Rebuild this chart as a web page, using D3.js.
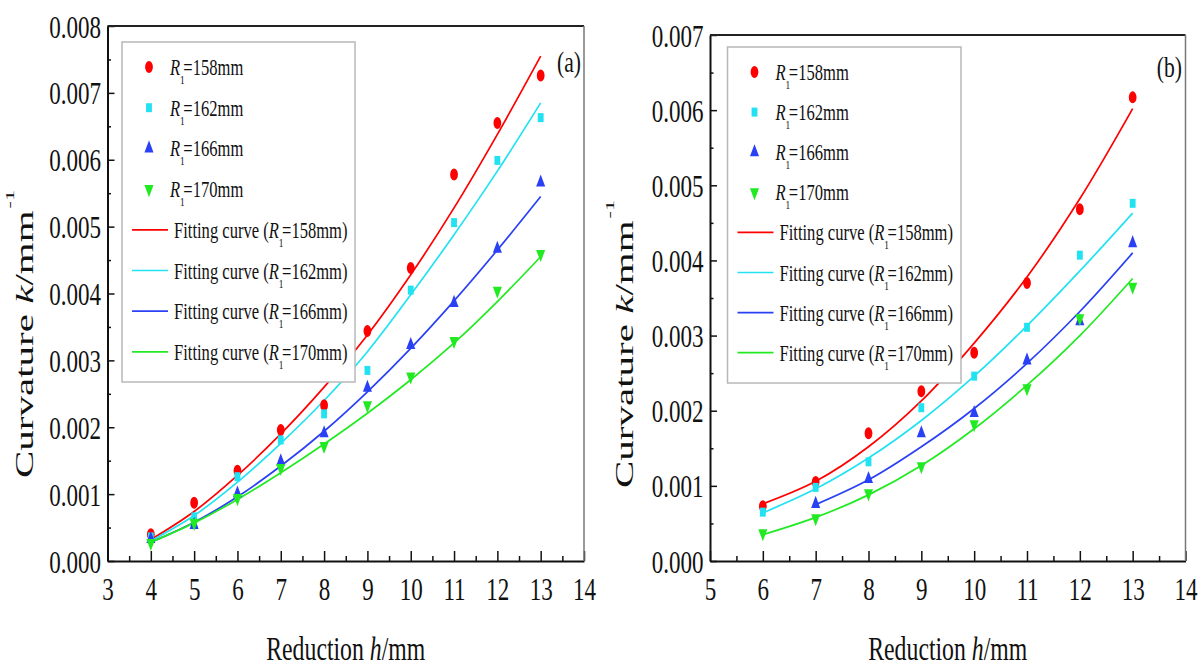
<!DOCTYPE html>
<html>
<head>
<meta charset="utf-8">
<script src="https://cdn.jsdelivr.net/npm/d3@7"></script>
<style>
body { margin: 0; background: #fff; }
svg { display: block; font-family: "Liberation Serif", "Times New Roman", serif; }
</style>
</head>
<body>
<svg id="chart" width="1204" height="666"></svg>
<script>
// ---- data ----
const radii = ["158", "162", "166", "170"];
const colors = ["#ff0000", "#22e2f2", "#2a40f4", "#22ea22"];

// panel (a)
const hA = [4, 5, 6, 7, 8, 9, 10, 11, 12, 13];
const kA158 = [0.00040, 0.00087, 0.00135, 0.00196, 0.00233, 0.00344, 0.00438, 0.00578, 0.00655, 0.00726];
const kA162 = [0.00036, 0.00066, 0.00126, 0.00181, 0.00220, 0.00285, 0.00405, 0.00506, 0.00599, 0.00663];
const kA166 = [0.00033, 0.00054, 0.00101, 0.00149, 0.00191, 0.00259, 0.00323, 0.00386, 0.00467, 0.00566];
const kA170 = [0.00027, 0.00057, 0.00094, 0.00139, 0.00172, 0.00233, 0.00276, 0.00329, 0.00404, 0.00459];
const fitA158 = [0.00032, 0.00074, 0.00128, 0.00190, 0.00260, 0.00338, 0.00428, 0.00528, 0.00638, 0.00755];
const fitA162 = [0.00030, 0.00068, 0.00118, 0.00176, 0.00240, 0.00313, 0.00398, 0.00488, 0.00583, 0.00685];
const fitA166 = [0.00028, 0.00058, 0.00096, 0.00142, 0.00194, 0.00253, 0.00318, 0.00389, 0.00465, 0.00545];
const fitA170 = [0.00028, 0.00057, 0.00092, 0.00132, 0.00175, 0.00221, 0.00271, 0.00326, 0.00388, 0.00455];

// panel (b)
const hB = [6, 7, 8, 9, 10, 11, 12, 13];
const kB158 = [0.00073, 0.00105, 0.00170, 0.00226, 0.00277, 0.00370, 0.00468, 0.00617];
const kB162 = [0.00065, 0.00098, 0.00132, 0.00204, 0.00246, 0.00311, 0.00407, 0.00476];
const kB166 = [null, 0.00076, 0.00109, 0.00170, 0.00197, 0.00267, 0.00319, 0.00423];
const kB170 = [0.00037, 0.00057, 0.00090, 0.00126, 0.00182, 0.00230, 0.00323, 0.00365];
const fitB158 = [0.00076, 0.00106, 0.00152, 0.00213, 0.00290, 0.00378, 0.00482, 0.00602];
const fitB162 = [0.00064, 0.00096, 0.00137, 0.00187, 0.00246, 0.00313, 0.00386, 0.00463];
const fitB166 = [null, 0.00075, 0.00108, 0.00152, 0.00203, 0.00263, 0.00332, 0.00410];
const fitB170 = [0.00035, 0.00058, 0.00088, 0.00127, 0.00176, 0.00234, 0.00300, 0.00376];

const ticksXA = d3.range(3, 15);
const ticksXB = d3.range(5, 15);

// ---- layout ----
const SX = 0.72;      // glyphs in the figure are squeezed horizontally
const SXM = 0.65;     // same for the markers
const svg = d3.select("#chart");

const panels = [
  {
    h: hA, k: [kA158, kA162, kA166, kA170], fit: [fitA158, fitA162, fitA166, fitA170],
    xDom: [3, 14], yDom: [0, 0.008], xTicks: ticksXA,
    left: 107.5, right: 584, top: 26, bottom: 561,
    legend: {x: 122, y: 42, w: 233, h: 340, row0: 67, step: 40.7},
    tag: "(a)", tagX: 581, tagY: 72, yTitleX: 33, yTitleY: 478
  },
  {
    h: hB, k: [kB158, kB162, kB166, kB170], fit: [fitB158, fitB162, fitB166, fitB170],
    xDom: [5, 14], yDom: [0, 0.007], xTicks: ticksXB,
    left: 710, right: 1185.5, top: 35, bottom: 561,
    legend: {x: 727.5, y: 47, w: 233.5, h: 336, row0: 72, step: 40.1},
    tag: "(b)", tagX: 1182, tagY: 77, yTitleX: 633, yTitleY: 488
  }
];

const symbols = [
  {type: d3.symbolCircle, size: 113, flip: 1},
  {type: d3.symbolSquare, size: 81, flip: 1},
  {type: d3.symbolTriangle, size: 84, flip: 1},
  {type: d3.symbolTriangle, size: 84, flip: -1}
];

function squashText(sel, x, y, size, anchor) {
  return sel.append("text")
    .attr("transform", `translate(${x},${y}) scale(${SX},1)`)
    .attr("font-size", size)
    .attr("text-anchor", anchor || "start")
    .attr("fill", "#111");
}

function radiusLabel(t, prefix, r, suffix) {
  if (prefix) t.append("tspan").text(prefix);
  t.append("tspan").attr("font-style", "italic").text("R");
  t.append("tspan").attr("font-size", 13).attr("dy", 9).text("1");
  t.append("tspan").attr("dy", -9).attr("dx", -2).text("=" + r + "mm" + suffix);
}

function marker(sel, i, x, y) {
  const s = symbols[i];
  sel.append("path")
    .attr("transform", `translate(${x},${y}) scale(${SXM},${s.flip})`)
    .attr("d", d3.symbol().type(s.type).size(s.size)())
    .attr("fill", colors[i]);
}

panels.forEach(p => {
  const x = d3.scaleLinear().domain(p.xDom).range([p.left, p.right]);
  const y = d3.scaleLinear().domain(p.yDom).range([p.bottom, p.top]);
  const g = svg.append("g");

  // fitted curves
  const line = d3.line()
    .defined(d => d.k != null)
    .x(d => x(d.h))
    .y(d => y(d.k))
    .curve(d3.curveCatmullRom.alpha(0.5));
  p.fit.forEach((f, i) => {
    g.append("path")
      .datum(p.h.map((h, j) => ({h: h, k: f[j]})))
      .attr("fill", "none")
      .attr("stroke", colors[i])
      .attr("stroke-width", 1.7)
      .attr("d", line);
  });

  // measured points
  p.k.forEach((ks, i) => {
    p.h.forEach((h, j) => {
      if (ks[j] != null) marker(g, i, x(h), y(ks[j]));
    });
  });

  // legend
  const L = p.legend;
  const lg = g.append("g").attr("transform", `translate(${L.x},${L.y})`);
  lg.append("rect")
    .attr("width", L.w).attr("height", L.h)
    .attr("fill", "#fff").attr("stroke", "#b8b8b8").attr("stroke-width", 1.5);
  radii.forEach((r, i) => {
    const ry = L.row0 - L.y + i * L.step;
    marker(lg, i, 27, ry);
    radiusLabel(squashText(lg, 48, ry + 8, 23), "", r, "");
  });
  radii.forEach((r, i) => {
    const ry = L.row0 - L.y + (i + 4) * L.step;
    lg.append("line")
      .attr("x1", 10).attr("x2", 46).attr("y1", ry).attr("y2", ry)
      .attr("stroke", colors[i]).attr("stroke-width", 1.7);
    radiusLabel(squashText(lg, 52, ry + 8, 23), "Fitting curve (", r, ")");
  });

  // axes
  const gx = g.append("g")
    .attr("transform", `translate(0,${p.bottom})`)
    .call(d3.axisBottom(x).tickValues(p.xTicks).tickSize(-10).tickSizeOuter(0).tickFormat(d3.format("d")));
  gx.attr("font-size", null).attr("font-family", null);
  gx.selectAll(".tick line").attr("stroke-width", 1.5).attr("stroke", "#111");
  gx.select(".domain").attr("stroke-width", 2).attr("stroke", "#111");
  gx.selectAll("text")
    .attr("y", null).attr("dy", null)
    .attr("transform", `translate(0,39) scale(${SX},1)`)
    .attr("font-size", 32).attr("fill", "#111");

  const gxm = g.append("g")
    .attr("transform", `translate(0,${p.bottom})`)
    .call(d3.axisBottom(x).tickValues(p.xTicks.slice(0, -1).map(v => v + 0.5)).tickSize(-5).tickSizeOuter(0).tickFormat(""));
  gxm.select(".domain").remove();
  gxm.selectAll(".tick line").attr("stroke-width", 1.5).attr("stroke", "#111");

  const yMajor = y.ticks(Math.round(p.yDom[1] / 0.001));
  const gy = g.append("g")
    .attr("transform", `translate(${p.left},0)`)
    .call(d3.axisLeft(y).tickValues(yMajor).tickSize(-7).tickSizeOuter(0).tickFormat(d3.format(".3f")));
  gy.attr("font-size", null).attr("font-family", null);
  gy.selectAll(".tick line").attr("stroke-width", 1.5).attr("stroke", "#111");
  gy.select(".domain").attr("stroke-width", 2).attr("stroke", "#111");
  gy.selectAll("text")
    .attr("x", null).attr("dy", null)
    .attr("transform", `translate(-6.5,11) scale(${SX},1)`)
    .attr("font-size", 32).attr("fill", "#111");

  const gym = g.append("g")
    .attr("transform", `translate(${p.left},0)`)
    .call(d3.axisLeft(y).tickValues(yMajor.slice(0, -1).map(v => v + 0.0005)).tickSize(-3.5).tickSizeOuter(0).tickFormat(""));
  gym.select(".domain").remove();
  gym.selectAll(".tick line").attr("stroke-width", 1.5).attr("stroke", "#111");

  // frame top / right
  g.append("line")
    .attr("x1", p.left).attr("x2", p.right).attr("y1", p.top).attr("y2", p.top)
    .attr("stroke", "#222").attr("stroke-width", 1.8);
  g.append("line")
    .attr("x1", p.right).attr("x2", p.right).attr("y1", p.top).attr("y2", p.bottom)
    .attr("stroke", "#777").attr("stroke-width", 1.5);

  // titles
  const xt = squashText(g, (p.left + p.right) / 2, 660, 33, "middle");
  xt.append("tspan").text("Reduction ");
  xt.append("tspan").attr("font-style", "italic").text("h");
  xt.append("tspan").text("/mm");

  const yt = g.append("text")
    .attr("transform", `translate(${p.yTitleX},${p.yTitleY}) rotate(-90) scale(1,0.59)`)
    .attr("font-size", 41).attr("fill", "#111");
  yt.append("tspan").text("Curvature ");
  yt.append("tspan").attr("font-style", "italic").text("k");
  yt.append("tspan").text("/mm");
  yt.append("tspan").attr("font-size", 22).attr("dy", -33).attr("dx", 2).text("-1");

  squashText(g, p.tagX, p.tagY, 30, "end").text(p.tag);
});
</script>
</body>
</html>
